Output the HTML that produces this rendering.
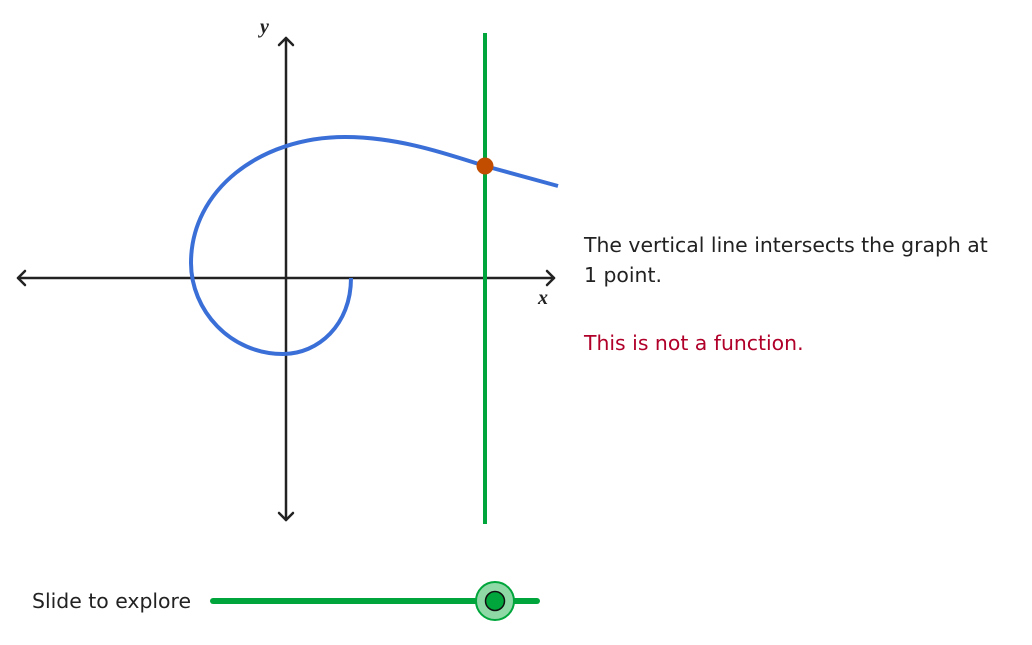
<!DOCTYPE html>
<html><head><style>
body{margin:0;width:1032px;height:645px;background:#fff;overflow:hidden;position:relative;font-family:"DejaVu Sans","Liberation Sans",sans-serif;}
.t{position:absolute;font-size:20.4px;color:#222;}
</style></head><body>
<svg width="1032" height="645" style="position:absolute;left:0;top:0">
<g stroke="#222" stroke-width="2.5" fill="none" stroke-linecap="round" stroke-linejoin="round">
<line x1="18" y1="278" x2="554" y2="278"/>
<polyline points="25,271 18,278 25,285"/>
<polyline points="547,271 554,278 547,285"/>
<line x1="286" y1="38" x2="286" y2="520"/>
<polyline points="279,45 286,38 293,45"/>
<polyline points="279,513 286,520 293,513"/>
</g>
<line x1="485" y1="33" x2="485" y2="524" stroke="#00a63b" stroke-width="4"/>
<path d="M351,278 C351,325 318,354 283,354 C230,354 191,310 191,263 C191,190 260,137 345,137 C400,137 450,155 485,166 L558,186" fill="none" stroke="#3b6fd8" stroke-width="4"/>
<circle cx="485" cy="166" r="8.5" fill="#c24d00"/>
<text x="260" y="33" font-family="Liberation Serif,serif" font-style="italic" font-weight="bold" font-size="20" fill="#222">y</text>
<text x="538" y="304" font-family="Liberation Serif,serif" font-style="italic" font-weight="bold" font-size="20" fill="#222">x</text>
<line x1="213" y1="601" x2="537" y2="601" stroke="#00a63b" stroke-width="6" stroke-linecap="round"/>
<circle cx="495" cy="601" r="19" fill="#8fd9a7" stroke="#00a63b" stroke-width="2"/>
<circle cx="495" cy="601" r="9.5" fill="#00a63b" stroke="#111" stroke-width="1.5"/>
</svg>
<div class="t" style="left:584px;top:230px;line-height:30px;">The vertical line intersects the graph at<br>1 point.</div>
<div class="t" style="left:584px;top:331px;color:#b0002a;">This is not a function.</div>
<div class="t" style="left:32px;top:589px;">Slide to explore</div>
</body></html>
